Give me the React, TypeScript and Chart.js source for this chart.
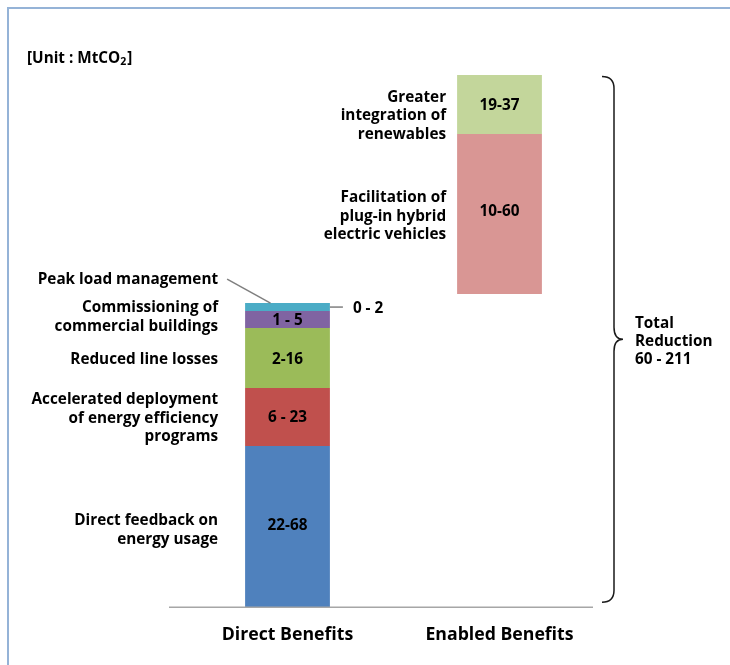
import { useEffect, useRef } from 'react';
import { Chart, registerables } from 'chart.js';

Chart.register(...registerables);

const categories = ['Direct Benefits', 'Enabled Benefits'];

// Direct benefits, stacked bottom to top
const directNames = [
  ['Direct feedback on', 'energy usage'],
  ['Accelerated deployment', 'of energy efficiency', 'programs'],
  ['Reduced line losses'],
  ['Commissioning of', 'commercial buildings'],
  ['Peak load management'],
];
const directRanges = ['22-68', '6 - 23', '2-16', '1 - 5', '0 - 2'];
const directHeights = [80.5, 29, 30, 8.5, 4];
const directColors = ['#4f81bd', '#c0504d', '#9bbb59', '#8064a2', '#4bacc6'];

// Enabled benefits float on an invisible base
const enabledBase = 156.5;
const enabledNames = [
  ['Facilitation of', 'plug-in hybrid', 'electric vehicles'],
  ['Greater', 'integration of', 'renewables'],
];
const enabledRanges = ['10-60', '19-37'];
const enabledHeights = [80, 29.5];
const enabledColors = ['#d99694', '#c3d69b'];

const totalLines = ['Total', 'Reduction', '60 - 211'];
const unitLabel = ['[Unit : MtCO', '2', ']'];

const FONT = '"Open Sans", Lato, sans-serif';
const LABEL_FONT = `bold 15.3px ${FONT}`;
const LINE = 18.5;
const TEXT_DY = 1.5; // optical centring of the bold glyphs

// small vertical nudges for side labels and in-bar labels (px)
const directNameNudge = [2, 0, 0, -4, 0];
const directValueNudge = [-3, -1, 0, 0, 0];
const enabledNameNudge = [1, 10];
const enabledValueNudge = [-4, 0];
const nameGap = [27, 11];

type Seg = { names: string[]; range: string; cat: number; idx: number; kind: string };

function buildDatasets() {
  const sets: any[] = [];
  directHeights.forEach((h, i) => {
    sets.push({
      label: directNames[i].join(' '),
      data: [h, null],
      backgroundColor: directColors[i],
      seg: { names: directNames[i], range: directRanges[i], cat: 0, idx: i, kind: i === 4 ? 'peak' : 'normal' } as Seg,
    });
  });
  sets.push({
    label: 'base',
    data: [null, enabledBase],
    backgroundColor: 'rgba(0,0,0,0)',
    seg: null,
  });
  enabledHeights.forEach((h, i) => {
    sets.push({
      label: enabledNames[i].join(' '),
      data: [null, h],
      backgroundColor: enabledColors[i],
      seg: { names: enabledNames[i], range: enabledRanges[i], cat: 1, idx: i, kind: 'normal' } as Seg,
    });
  });
  return sets;
}

const annotate = {
  id: 'annotate',
  beforeDraw(chart: any) {
    const { ctx, width, height } = chart;
    ctx.save();
    ctx.fillStyle = '#ffffff';
    ctx.fillRect(0, 0, width, height);
    // frame
    ctx.strokeStyle = '#95b3d7';
    ctx.lineWidth = 2;
    ctx.beginPath();
    ctx.moveTo(8, height + 5);
    ctx.lineTo(8, 8);
    ctx.lineTo(width + 5, 8);
    ctx.stroke();
    ctx.restore();
  },
  afterDatasetsDraw(chart: any) {
    const { ctx } = chart;
    const xs = chart.scales.x;
    const ys = chart.scales.y;
    const base = ys.getPixelForValue(0);
    ctx.save();

    // baseline
    ctx.strokeStyle = '#a6a6a6';
    ctx.lineWidth = 1.5;
    ctx.beginPath();
    ctx.moveTo(xs.getPixelForValue(0) - 118.5, base);
    ctx.lineTo(xs.getPixelForValue(1) + 93.5, base);
    ctx.stroke();

    ctx.fillStyle = '#000';
    ctx.font = LABEL_FONT;

    chart.data.datasets.forEach((ds: any, di: number) => {
      const seg: Seg = ds.seg;
      if (!seg) return;
      const bar = chart.getDatasetMeta(di).data[seg.cat] as any;
      const top = bar.y;
      const bottom = bar.base;
      const mid = (top + bottom) / 2;
      const left = bar.x - bar.width / 2;
      const right = bar.x + bar.width / 2;
      const nameX = left - nameGap[seg.cat];
      const nameNudge = seg.cat === 0 ? directNameNudge[seg.idx] : enabledNameNudge[seg.idx];
      const valNudge = seg.cat === 0 ? directValueNudge[seg.idx] : enabledValueNudge[seg.idx];

      ctx.textBaseline = 'middle';
      if (seg.kind === 'peak') {
        const ly = top - 25;
        ctx.textAlign = 'right';
        ctx.fillText(seg.names[0], nameX, ly + TEXT_DY);
        ctx.strokeStyle = '#7f7f7f';
        ctx.lineWidth = 1.5;
        ctx.beginPath();
        ctx.moveTo(nameX + 9, ly + 1);
        ctx.lineTo(bar.x - 17, top);
        ctx.stroke();
        ctx.beginPath();
        ctx.moveTo(right, mid);
        ctx.lineTo(right + 13, mid);
        ctx.stroke();
        ctx.textAlign = 'left';
        ctx.fillText(seg.range, right + 23, mid + TEXT_DY);
        return;
      }
      // value inside the bar
      ctx.textAlign = 'center';
      ctx.fillText(seg.range, bar.x, mid + valNudge + TEXT_DY);
      // name to the left
      ctx.textAlign = 'right';
      const n = seg.names.length;
      seg.names.forEach((line, li) => {
        ctx.fillText(line, nameX, mid + nameNudge + TEXT_DY + (li - (n - 1) / 2) * LINE);
      });
    });

    // brace spanning the total
    const topBar = ys.getPixelForValue(ys.max) + 1.5;
    const botBar = base - 5;
    const rightEnabled = xs.getPixelForValue(1) + 42.5;
    const xv = rightEnabled + 72;
    const x0 = xv - 12;
    const xt = xv + 9;
    const midY = (topBar + botBar) / 2;
    const r = 12;
    ctx.strokeStyle = '#1a1a1a';
    ctx.lineWidth = 1.5;
    ctx.beginPath();
    ctx.moveTo(x0, topBar);
    ctx.quadraticCurveTo(xv, topBar, xv, topBar + r);
    ctx.lineTo(xv, midY - r);
    ctx.quadraticCurveTo(xv, midY, xt, midY);
    ctx.quadraticCurveTo(xv, midY, xv, midY + r);
    ctx.lineTo(xv, botBar - r);
    ctx.quadraticCurveTo(xv, botBar, x0, botBar);
    ctx.stroke();

    ctx.textAlign = 'left';
    ctx.textBaseline = 'middle';
    totalLines.forEach((line, li) => {
      ctx.fillText(line, xv + 21, midY + TEXT_DY + 1 + (li - 1) * 18);
    });

    // unit caption with subscript
    let ux = 27;
    const uy = 57 + TEXT_DY;
    ctx.fillText(unitLabel[0], ux, uy);
    ux += ctx.measureText(unitLabel[0]).width;
    ctx.font = `bold 10.5px ${FONT}`;
    ctx.fillText(unitLabel[1], ux, uy + 4);
    ux += ctx.measureText(unitLabel[1]).width;
    ctx.font = LABEL_FONT;
    ctx.fillText(unitLabel[2], ux + 1, uy);

    ctx.restore();
  },
};

export default function App() {
  const ref = useRef<HTMLCanvasElement | null>(null);

  useEffect(() => {
    if (!ref.current) return;
    const chart = new Chart(ref.current, {
      type: 'bar',
      data: { labels: categories, datasets: buildDatasets() },
      options: {
        responsive: false,
        animation: false,
        devicePixelRatio: 1,
        layout: { padding: { left: 181.5, right: 124.5, top: 75, bottom: 1.6 } },
        datasets: { bar: { categoryPercentage: 1, barPercentage: 0.4, borderWidth: 0 } },
        plugins: { legend: { display: false }, tooltip: { enabled: false } },
        scales: {
          x: {
            stacked: true,
            grid: { display: false, drawTicks: false },
            border: { display: false },
            ticks: { color: '#000', padding: 17.5, font: { family: FONT, weight: 'bold', size: 17.7 } },
          },
          y: { stacked: true, display: false, min: 0, max: 266 },
        },
      },
      plugins: [annotate],
    } as any);
    return () => chart.destroy();
  }, []);

  return (
    <div style={{ position: 'absolute', left: 0, top: 0, width: 730, height: 665, background: '#fff' }}>
      <canvas ref={ref} width={730} height={665} style={{ display: 'block' }} />
    </div>
  );
}
